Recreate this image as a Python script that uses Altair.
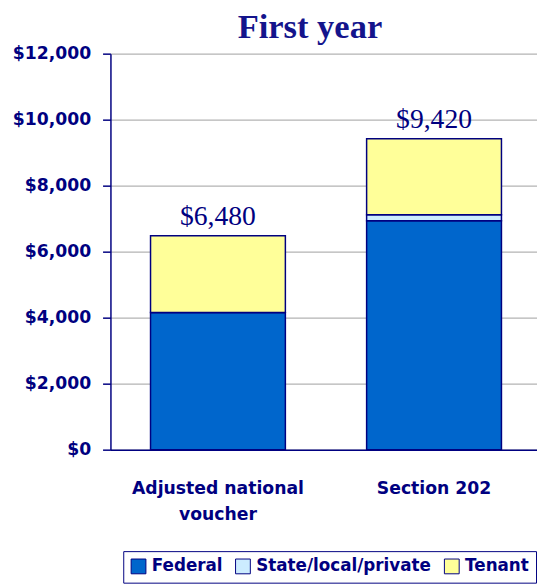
import altair as alt
import pandas as pd

categories = ["Adjusted national voucher", "Section 202"]
series = ["Federal", "State/local/private", "Tenant"]
federal = [4160, 6940]
state_local_private = [0, 180]
tenant = [2320, 2300]
colors = ["#0066CC", "#CCECFF", "#FFFF99"]
y_ticks = [0, 2000, 4000, 6000, 8000, 10000, 12000]

NAVY = "#000080"

rows = []
for i, c in enumerate(categories):
    for j, (s, vals) in enumerate(zip(series, [federal, state_local_private, tenant])):
        rows.append({"category": c, "series": s, "value": vals[i], "order": j})
df = pd.DataFrame(rows)

x_enc = alt.X(
    "category:N",
    sort=categories,
    scale=alt.Scale(paddingInner=0.376, paddingOuter=0.175, align=0.53),
    axis=alt.Axis(
        title=None,
        labelAngle=0,
        labelExpr="datum.value == 'Adjusted national voucher' ? ['Adjusted national', 'voucher'] : datum.value",
        labelFont="DejaVu Sans",
        labelFontWeight="bold",
        labelFontSize=17.5,
        labelColor=NAVY,
        labelLineHeight=27,
        labelPadding=30,
        ticks=False,
        domainColor=NAVY,
        domainWidth=1.5,
    ),
)

bars = alt.Chart(df).mark_bar(stroke=NAVY, strokeWidth=1.5).encode(
    x=x_enc,
    y=alt.Y(
        "value:Q",
        stack="zero",
        scale=alt.Scale(domain=[0, 12000], nice=False),
        axis=alt.Axis(
            title=None,
            values=y_ticks,
            format="$,.0f",
            labelFont="DejaVu Sans",
            labelFontWeight="bold",
            labelFontSize=17.5,
            labelColor=NAVY,
            labelPadding=12,
            tickSize=8,
            tickColor=NAVY,
            tickWidth=1.5,
            domainColor=NAVY,
            domainWidth=1.5,
            grid=True,
            gridColor="#B3B3B3",
            gridWidth=1.2,
        ),
    ),
    color=alt.Color(
        "series:N",
        sort=series,
        scale=alt.Scale(domain=series, range=colors),
        legend=alt.Legend(
            title=None,
            orient="none",
            legendX=13,
            legendY=505,
            direction="horizontal",
            strokeColor=NAVY,
            padding=7,
            symbolType="square",
            symbolSize=225,
            symbolStrokeColor=NAVY,
            symbolStrokeWidth=1,
            labelFont="DejaVu Sans",
            labelFontWeight="bold",
            labelFontSize=17,
            labelColor=NAVY,
            labelLimit=400,
            columnPadding=11,
            labelOffset=5,
        ),
    ),
    order=alt.Order("order:Q", sort="ascending"),
)

totals = alt.Chart(df).transform_aggregate(
    total="sum(value)", groupby=["category"]
).mark_text(
    baseline="alphabetic", dy=-11, font="Liberation Serif", fontSize=28, color=NAVY
).encode(
    x=alt.X("category:N", sort=categories),
    y=alt.Y("total:Q"),
    text=alt.Text("total:Q", format="$,.0f"),
)

chart = alt.layer(bars, totals).properties(
    width=433,
    height=402,
    autosize=alt.AutoSizeParams(type="none"),
    padding={"left": 104, "top": 42, "right": 0, "bottom": 132},
    background="white",
    title=alt.TitleParams(
        "First year",
        font="Liberation Serif",
        fontSize=35,
        fontWeight="bold",
        color="#14148C",
        anchor="middle",
        dx=-14,
        offset=0,
    ),
).configure_view(stroke=None, fill="white")

chart.save("out.html", embed_options={"renderer": "svg", "actions": False})
